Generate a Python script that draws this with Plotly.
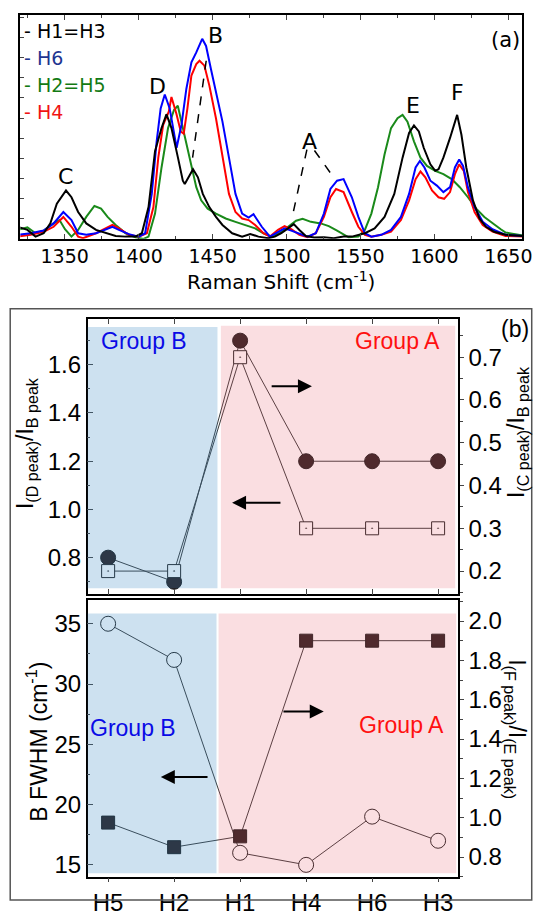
import plotly.graph_objects as go

# ---------------- Panel (a): Raman spectra ----------------
h13_x = [1318.1,1324.8,1330.3,1335.8,1340.3,1344.7,1350.9,1354.6,1359.1,1364.6,1371.2,1377.9,1384.5,1391.2,1397.8,1402.2,1406.7,1411.1,1415.5,1418.8,1422.2,1426.6,1429.9,
         1431.2,1436.8,1440.1,1443.4,1447.8,1452.3,1456.7,1463.3,1470,1475.5,1481,1487.7,1492.1,1496.5,1501,1504.9,1508.7,1513.1,1518.7,1525.3,1532,
         1538.6,1544.2,1553,1559.6,1566.3,1572.9,1578.5,1582.9,1586.2,1589.5,1592.8,1597.3,1600.6,1602.8,1606.1,1610.6,1615.4,1618.3,1621.6,1626.1,1630.5,1634.9,1640.4,1648.2,1655,1660]
h13_y = [0.054,0.04,0.01,0.025,0.069,0.157,0.216,0.186,0.12,0.069,0.04,0.025,0.013,0.01,0.01,0.025,0.142,0.392,0.495,0.557,0.495,0.363,0.26,
         0.245,0.311,0.275,0.201,0.142,0.098,0.062,0.025,0.01,0.022,0.01,0.003,0.01,0.025,0.047,0.066,0.04,0.013,0.006,0.007,0.003,
         0.01,0.01,0.025,0.047,0.098,0.201,0.363,0.473,0.507,0.48,0.407,0.333,0.304,0.311,0.363,0.451,0.554,0.465,0.319,0.172,0.091,0.054,0.032,0.018,0.015,0.013]

h6_x = [1318.1,1327,1335.8,1342.5,1349.1,1354.6,1359.1,1364.6,1371.2,1377.9,1382.3,1386.7,1393.4,1400,1404.4,1408.9,1412.2,1414.9,1417.7,1421,1424.4,
        1425.7,1429,1432.3,1435.7,1439,1443,1445.6,1448.9,1452.3,1456.7,1461.1,1465.5,1470,1474.4,1477.7,1483.3,1488.8,1493.2,1498.7,1503.2,1508.7,1514.2,1519.8,1525.3,1529.7,1534.2,1538.6,
        1544.2,1548.6,1553,1557.4,1564.1,1570.7,1577.4,1582.9,1587.3,1590.2,1593.3,1597.3,1601.7,1606.1,1610.6,1613.9,1616.8,1619.4,1622.7,1627.2,1632.7,1639.3,1648.2,1655,1660]
h6_y = [0.018,0.025,0.037,0.069,0.12,0.084,0.025,0.018,0.025,0.043,0.054,0.04,0.021,0.01,0.025,0.201,0.436,0.583,0.645,0.583,0.465,
        0.407,0.51,0.671,0.789,0.833,0.894,0.862,0.759,0.656,0.524,0.363,0.201,0.113,0.095,0.11,0.054,0.01,0.025,0.047,0.037,0.025,0.01,0.025,0.113,0.223,0.26,0.267,
        0.186,0.098,0.025,0.01,0.018,0.04,0.098,0.201,0.319,0.348,0.319,0.26,0.238,0.209,0.231,0.319,0.355,0.326,0.231,0.142,0.076,0.043,0.018,0.015,0.013]

h4_x = [1318.1,1327,1335.8,1342.5,1349.1,1354.6,1359.1,1362.4,1371.2,1377.9,1382.3,1386.7,1393.4,1400,1405.6,1410,1413.3,1416.6,1420.4,1422.2,1425.5,
        1428.5,1430.5,1433,1435.7,1439,1441.2,1444.5,1447.8,1452.3,1456.7,1461.1,1465.5,1470,1474.4,1478.8,1484.4,1488.8,1494.3,1498.7,1503.2,1508.7,1514.2,1519.8,1525.3,1529.7,1533.5,1538.6,
        1544.2,1548.6,1553,1557.4,1564.1,1570.7,1577.4,1582.9,1587.3,1590.6,1593.9,1598.4,1602.8,1606.6,1610.6,1613.9,1616.8,1619.9,1622.7,1627.2,1632.7,1639.3,1648.2,1655,1660]
h4_y = [0.01,0.018,0.032,0.054,0.098,0.054,0.01,0.003,0.025,0.047,0.062,0.047,0.018,0.01,0.025,0.142,0.363,0.51,0.568,0.634,0.56,
        0.48,0.47,0.583,0.73,0.781,0.796,0.774,0.686,0.539,0.363,0.201,0.12,0.091,0.084,0.062,0.025,0.01,0.04,0.057,0.043,0.018,0.007,0.025,0.098,0.186,0.223,0.209,
        0.12,0.054,0.018,0.01,0.018,0.032,0.084,0.172,0.267,0.301,0.275,0.216,0.186,0.179,0.209,0.289,0.333,0.304,0.209,0.12,0.062,0.032,0.013,0.012,0.01]

h25_x = [1318.1,1324.8,1330.3,1335.8,1342.5,1346.5,1350.2,1354.6,1359.1,1364.6,1370.1,1374.6,1379,1384.5,1391.2,1397.8,1403.3,1406.7,1411.1,1415.5,1419.9,1423.9,
         1426.5,1429,1432.3,1435.7,1439,1442.3,1446.7,1452.3,1458.9,1465.5,1472.2,1478.8,1484.4,1489.9,1495.4,1501,1506.5,1510.9,1516.5,1523.1,1528.6,1534.2,1538.6,
         1542,1548.6,1553,1557.4,1561.9,1566.3,1570.7,1575.1,1578.5,1581.8,1586.2,1590.6,1595,1600.6,1606.1,1611.7,1617.2,1622.7,1628.3,1633.8,1639.3,1644.9,1648.2,1655,1660]
h25_y = [0.04,0.051,0.025,0.037,0.069,0.084,0.043,0.01,0.04,0.098,0.147,0.135,0.098,0.062,0.025,0.007,0.0,0.01,0.113,0.319,0.495,0.576,
         0.595,0.524,0.421,0.319,0.231,0.172,0.135,0.113,0.091,0.076,0.062,0.047,0.025,0.01,0.025,0.054,0.081,0.09,0.076,0.069,0.057,0.037,0.018,
         0.007,0.01,0.04,0.113,0.231,0.377,0.495,0.539,0.554,0.524,0.436,0.363,0.326,0.304,0.289,0.267,0.231,0.186,0.135,0.098,0.069,0.043,0.028,0.02,0.015]

x_ticks_a = [1350, 1400, 1450, 1500, 1550, 1600, 1650]
peak_names = ["C", "D", "B", "A", "E", "F"]
peak_pos_x = [1350.3, 1413.1, 1451.7, 1515.4, 1585.5, 1615.5]
peak_pos_y = [0.279, 0.681, 0.909, 0.436, 0.595, 0.652]

# ---------------- Panel (b) ----------------
samples = ["H5", "H2", "H1", "H4", "H6", "H3"]
d_over_b = [0.80, 0.70, 1.70, 1.20, 1.20, 1.20]      # filled circles, left axis
c_over_b = [0.20, 0.20, 0.70, 0.30, 0.30, 0.30]      # open squares, right axis
b_fwhm = [35, 32, 16, 15, 19, 17]                    # open circles, left axis
f_over_e = [0.975, 0.85, 0.905, 1.90, 1.90, 1.90]    # filled squares, right axis

W, H = 543, 916
def px(x): return x / W
def py(y): return 1 - y / H

FA = "DejaVu Sans"
FB = "Liberation Sans, Arial"
idx = list(range(len(samples)))

fig = go.Figure()
for xs, ys, col in [(h25_x, h25_y, "#1a8a1a"), (h4_x, h4_y, "#ff0000"),
                    (h6_x, h6_y, "#0000ff"), (h13_x, h13_y, "#000000")]:
    fig.add_trace(go.Scatter(x=xs, y=ys, mode="lines", line=dict(color=col, width=2),
                             xaxis="x", yaxis="y", showlegend=False, hoverinfo="skip"))

LC = "#3a3a3a"
fig.add_trace(go.Scatter(x=idx, y=d_over_b, mode="lines+markers", xaxis="x2", yaxis="y2",
                         line=dict(color=LC, width=1),
                         marker=dict(symbol="circle", size=15, color="#2a1e1e", line=dict(color="#1a1a1a", width=1)),
                         showlegend=False))
fig.add_trace(go.Scatter(x=idx, y=c_over_b, mode="lines+markers", xaxis="x2", yaxis="y3",
                         line=dict(color=LC, width=1),
                         marker=dict(symbol="square-dot", size=13, color="white", line=dict(color="#222", width=1)),
                         showlegend=False))
fig.add_trace(go.Scatter(x=idx, y=b_fwhm, mode="lines+markers", xaxis="x3", yaxis="y4",
                         line=dict(color=LC, width=1),
                         marker=dict(symbol="circle", size=15, color="white", line=dict(color="#222", width=1)),
                         showlegend=False))
fig.add_trace(go.Scatter(x=idx, y=f_over_e, mode="lines+markers", xaxis="x3", yaxis="y5",
                         line=dict(color=LC, width=1),
                         marker=dict(symbol="square", size=13, color="#2a1e1e", line=dict(color="#1a1a1a", width=1)),
                         showlegend=False))

axcommon = dict(showline=True, linecolor="black", linewidth=1.5, showgrid=False, zeroline=False)
xr = [-0.31, 5.30]
dom_b = [px(89.3), px(466.5)]
TF = dict(family=FB, size=24, color="black")

fig.update_layout(
    width=W, height=H, margin=dict(l=0, r=0, t=0, b=0),
    paper_bgcolor="white", plot_bgcolor="white",
    xaxis=dict(domain=[px(20.7), px(532.3)], range=[1320, 1659.6], anchor="y",
               tickvals=x_ticks_a, ticks="inside", ticklen=5, mirror="ticks",
               minor=dict(ticks="inside", dtick=25, ticklen=3),
               tickfont=dict(family=FA, size=19, color="black"), ticklabelstandoff=0, **axcommon),
    yaxis=dict(domain=[py(242.3), py(15.3)], range=[0, 1], anchor="x", showticklabels=False,
               ticks="inside", tick0=0, dtick=0.09, ticklen=4, mirror=True, **axcommon),
    xaxis2=dict(domain=dom_b, range=xr, anchor="y2", tickvals=idx, showticklabels=False,
                ticks="inside", ticklen=6, mirror="ticks", **axcommon),
    yaxis2=dict(domain=[py(603), py(323.3)], range=[0.6475, 1.791], anchor="x2",
                tick0=0.8, dtick=0.2, tickformat=".1f", ticks="inside", ticklen=6,
                minor=dict(ticks="inside", dtick=0.1, ticklen=3),
                tickfont=TF, **axcommon),
    yaxis3=dict(overlaying="y2", side="right", anchor="x2", range=[0.1454, 0.79],
                tick0=0.2, dtick=0.1, tickformat=".1f", ticks="outside", ticklen=4,
                minor=dict(ticks="outside", dtick=0.05, ticklen=3),
                tickfont=TF, **axcommon),
    xaxis3=dict(domain=dom_b, range=xr, anchor="y4", tickvals=idx, ticktext=samples,
                ticks="outside", ticklen=4, mirror=True,
                tickfont=TF, **axcommon),
    yaxis4=dict(domain=[py(889.3), py(609)], range=[14.02, 36.94], anchor="x3",
                tick0=15, dtick=5, ticks="inside", ticklen=6,
                minor=dict(ticks="inside", dtick=2.5, ticklen=3),
                tickfont=TF, **axcommon),
    yaxis5=dict(overlaying="y4", side="right", anchor="x3", range=[0.70, 2.105],
                tick0=0.8, dtick=0.2, tickformat=".1f", ticks="outside", ticklen=4,
                minor=dict(ticks="outside", dtick=0.1, ticklen=3),
                tickfont=TF, **axcommon),
)

shapes = []
BLUE = "rgba(56,136,196,0.25)"
PINK = "rgba(230,90,105,0.20)"
shapes += [
    dict(type="rect", xref="x2", yref="y2", x0=-0.36, x1=1.657, y0=0.673, y1=1.757,
         fillcolor=BLUE, line=dict(width=0), layer="above"),
    dict(type="rect", xref="x2", yref="y2", x0=1.709, x1=5.259, y0=0.673, y1=1.762,
         fillcolor=PINK, line=dict(width=0), layer="above"),
    dict(type="rect", xref="x3", yref="y4", x0=-0.36, x1=1.642, y0=14.31, y1=35.85,
         fillcolor=BLUE, line=dict(width=0), layer="above"),
    dict(type="rect", xref="x3", yref="y4", x0=1.673, x1=5.274, y0=14.31, y1=35.85,
         fillcolor=PINK, line=dict(width=0), layer="above"),
]
for (x0, y0, x1, y1) in [(1445.7, 0.796, 1436.5, 0.363), (1513.8, 0.399, 1503.9, 0.098),
                         (1518.9, 0.395, 1530.0, 0.292)]:
    shapes.append(dict(type="line", xref="x", yref="y", x0=x0, y0=y0, x1=x1, y1=y1,
                       line=dict(color="black", width=1.5, dash="dash")))
shapes.append(dict(type="rect", xref="paper", yref="paper", x0=px(10.4), x1=px(541.7),
                   y0=py(913), y1=py(313.3), line=dict(color="#555", width=1.5)))
fig.update_layout(shapes=shapes)

C = dict(xanchor="center", yanchor="middle", showarrow=False)
ann = []
for n, xx, yy in zip(peak_names, peak_pos_x, peak_pos_y):
    ann.append(dict(x=xx, y=yy, xref="x", yref="y", text=n,
                    font=dict(family=FA, size=22, color="black"), **C))
ann.append(dict(x=1648.1, y=0.887, xref="x", yref="y", text="(a)",
                font=dict(family=FA, size=21, color="black"), **C))
legend_items = [("- H1=H3", "#000000", 31.7), ("- H6", "#1f3590", 59.3),
                ("- H2=H5", "#137a13", 86.0), ("- H4", "#f01414", 113.3)]
for t, c, yy in legend_items:
    ann.append(dict(x=px(22.5), y=py(yy), xref="paper", yref="paper", text=t, showarrow=False,
                    xanchor="left", yanchor="middle", font=dict(family=FA, size=19, color=c)))
ann.append(dict(x=px(286.5), y=py(285), xref="paper", yref="paper",
                text="Raman Shift (cm<sup>-1</sup>)",
                font=dict(family=FA, size=20, color="black"), **C))
ann.append(dict(x=px(524.7), y=py(334), xref="paper", yref="paper", text="(b)",
                font=dict(family=FB, size=23, color="black"), **C))
ann += [
    dict(x=0.546, y=1.698, xref="x2", yref="y2", text="Group B",
         font=dict(family=FB, size=23, color="#0a0ae6"), **C),
    dict(x=4.379, y=1.698, xref="x2", yref="y2", text="Group A",
         font=dict(family=FB, size=23, color="#ff1010"), **C),
    dict(x=0.379, y=26.39, xref="x3", yref="y4", text="Group B",
         font=dict(family=FB, size=23, color="#0a0ae6"), **C),
    dict(x=4.45, y=26.64, xref="x3", yref="y4", text="Group A",
         font=dict(family=FB, size=23, color="#ff1010"), **C),
]
ann += [
    dict(x=px(27), y=py(450), xref="paper", yref="paper", textangle=-90,
         text="I<sub>(D peak)</sub>/I<sub>B peak</sub>", font=dict(family=FB, size=23, color="black"), **C),
    dict(x=px(528), y=py(438), xref="paper", yref="paper", textangle=-90,
         text="I<sub>(C peak)</sub>/I<sub>B peak</sub>", font=dict(family=FB, size=23, color="black"), **C),
    dict(x=px(38), y=py(752), xref="paper", yref="paper", textangle=-90,
         text="B FWHM (cm<sup>-1</sup>)", font=dict(family=FB, size=23, color="black"), **C),
    dict(x=px(525), y=py(740), xref="paper", yref="paper", textangle=90,
         text="I<sub>(F peak)</sub>/I<sub>(E peak)</sub>", font=dict(family=FB, size=23, color="black"), **C),
]
for (xh, yh, xt, yt, xr_, yr_) in [(3.088, 1.511, 2.455, 1.511, "x2", "y2"),
                                   (1.878, 1.028, 2.634, 1.028, "x2", "y2"),
                                   (3.267, 27.72, 2.634, 27.72, "x3", "y4"),
                                   (0.798, 22.28, 1.529, 22.28, "x3", "y4")]:
    ann.append(dict(x=xh, y=yh, ax=xt, ay=yt, xref=xr_, yref=yr_, axref=xr_, ayref=yr_,
                    text="", showarrow=True, arrowhead=2, arrowsize=1.4, arrowwidth=2,
                    arrowcolor="black"))
fig.update_layout(annotations=ann)

fig.write_html("out.html")
